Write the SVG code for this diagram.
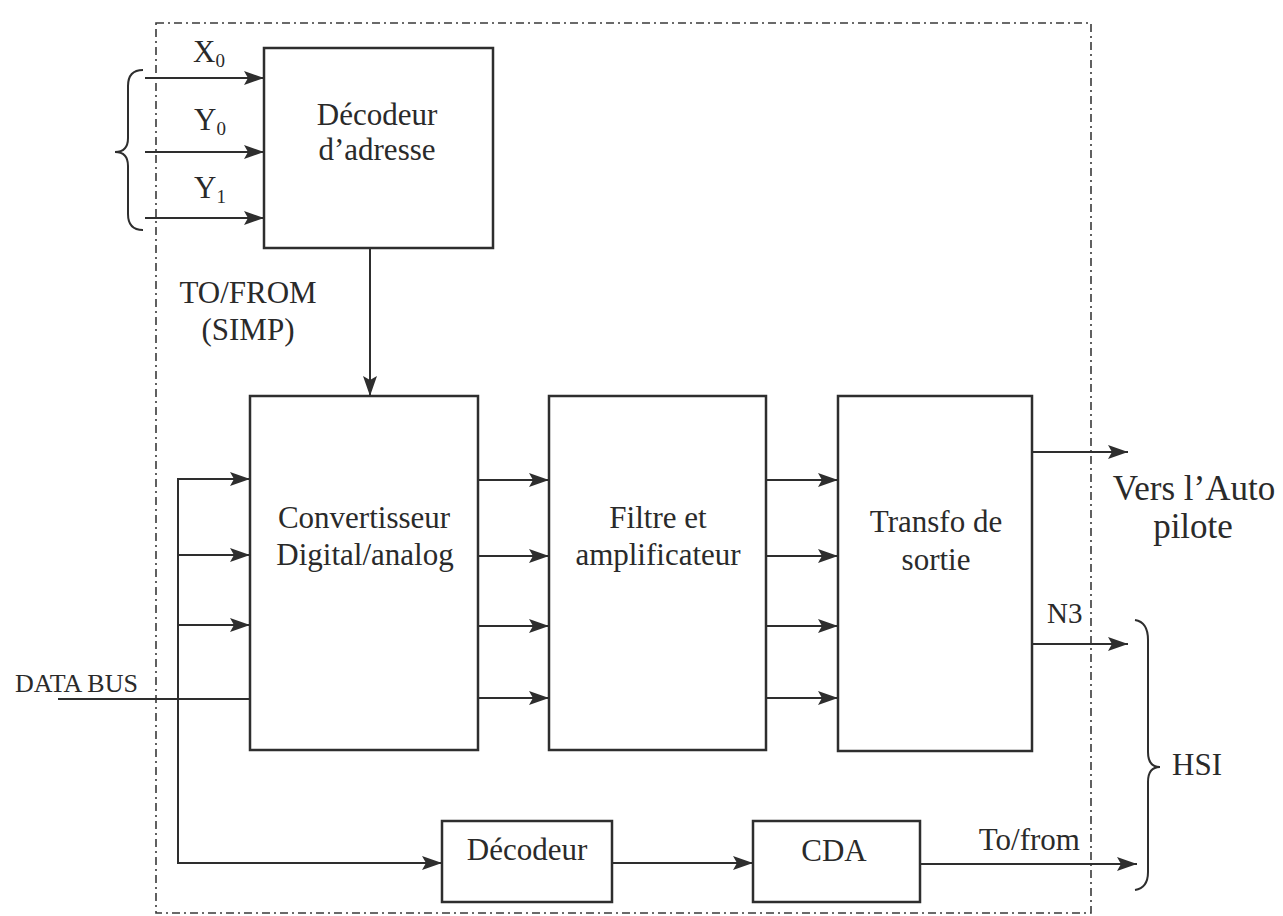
<svg xmlns="http://www.w3.org/2000/svg" width="1283" height="916" viewBox="0 0 1283 916">
<style>
.box{fill:none;stroke:#2e2e2e;stroke-width:2.5}
.ln{fill:none;stroke:#2e2e2e;stroke-width:2}
.arr{fill:none;stroke:#2e2e2e;stroke-width:2;marker-end:url(#ah)}
.brace{fill:none;stroke:#2e2e2e;stroke-width:2}
.border{fill:none;stroke:#3a3a3a;stroke-width:1.6;stroke-dasharray:8 4 2 4}
text{font-family:"Liberation Serif","Times New Roman",serif;fill:#2a2a2a;font-size:31px}
.c{text-anchor:middle}
.sub{font-size:19px}
</style>
<defs>
<marker id="ah" markerWidth="21" markerHeight="15" refX="20" refY="7" orient="auto" markerUnits="userSpaceOnUse">
<path d="M0,0 L20,7 L0,14 L4,7 z" fill="#2e2e2e"/>
</marker>
</defs>
<rect width="1283" height="916" fill="#ffffff"/>
<rect id="boundary" class="border" x="156" y="23" width="935" height="890"/>

<g id="decodeur-adresse">
<rect class="box" x="264" y="48" width="229" height="200"/>
<text class="c" x="377" y="125">Décodeur</text>
<text class="c" x="377" y="160">d’adresse</text>
</g>
<g id="convertisseur">
<rect class="box" x="250" y="396" width="228" height="354"/>
<text class="c" x="364" y="528">Convertisseur</text>
<text class="c" x="365" y="565">Digital/analog</text>
</g>
<g id="filtre">
<rect class="box" x="549" y="396" width="217" height="354"/>
<text class="c" x="658" y="528">Filtre et</text>
<text class="c" x="658" y="565">amplificateur</text>
</g>
<g id="transfo">
<rect class="box" x="838" y="396" width="194" height="355"/>
<text class="c" x="936" y="532">Transfo de</text>
<text class="c" x="936" y="570">sortie</text>
</g>
<g id="decodeur">
<rect class="box" x="442" y="821" width="170" height="81"/>
<text class="c" x="527" y="860">Décodeur</text>
</g>
<g id="cda">
<rect class="box" x="753" y="821" width="167" height="81"/>
<text class="c" x="834" y="861">CDA</text>
</g>

<g id="connectors">
<line class="arr" x1="145" y1="78" x2="264" y2="78"/>
<line class="arr" x1="145" y1="152" x2="264" y2="152"/>
<line class="arr" x1="145" y1="218" x2="264" y2="218"/>
<line class="arr" x1="370" y1="248" x2="370" y2="396"/>
<path class="ln" d="M178,479 L178,863"/>
<line class="arr" x1="177" y1="479" x2="250" y2="479"/>
<line class="arr" x1="178" y1="555" x2="250" y2="555"/>
<line class="arr" x1="178" y1="625" x2="250" y2="625"/>
<line class="ln" x1="58" y1="699" x2="250" y2="699"/>
<line class="arr" x1="478" y1="480" x2="549" y2="480"/>
<line class="arr" x1="478" y1="556" x2="549" y2="556"/>
<line class="arr" x1="478" y1="626" x2="549" y2="626"/>
<line class="arr" x1="478" y1="698" x2="549" y2="698"/>
<line class="arr" x1="766" y1="480" x2="838" y2="480"/>
<line class="arr" x1="766" y1="556" x2="838" y2="556"/>
<line class="arr" x1="766" y1="626" x2="838" y2="626"/>
<line class="arr" x1="766" y1="698" x2="838" y2="698"/>
<line class="arr" x1="1032" y1="452" x2="1128" y2="452"/>
<line class="arr" x1="1032" y1="644" x2="1128" y2="644"/>
<line class="arr" x1="177" y1="863" x2="442" y2="863"/>
<line class="arr" x1="612" y1="863" x2="753" y2="863"/>
<line class="arr" x1="920" y1="864" x2="1137" y2="864"/>
<path class="brace" d="M143,70 Q128,70 128,86 L128,138 Q128,152 115,152 Q128,152 128,166 L128,214 Q128,230 143,230"/>
<path class="brace" d="M1135,620 Q1148,622 1148,640 L1148,752 Q1148,767 1160,767 Q1148,767 1148,782 L1148,872 Q1148,888 1135,890"/>
</g>

<g id="labels">
<text x="193" y="62">X<tspan class="sub" dy="5">0</tspan></text>
<text x="194" y="130">Y<tspan class="sub" dy="5">0</tspan></text>
<text x="194" y="198">Y<tspan class="sub" dy="5">1</tspan></text>
<text class="c" x="248" y="303">TO/FROM</text>
<text class="c" x="248" y="340">(SIMP)</text>
<text x="15" y="692" style="font-size:26px">DATA BUS</text>
<text class="c" x="1194" y="500" style="font-size:35px">Vers l’Auto</text>
<text class="c" x="1193" y="538" style="font-size:35px">pilote</text>
<text x="1047" y="623" style="font-size:29px">N3</text>
<text x="1172" y="775">HSI</text>
<text x="1080" y="850" style="text-anchor:end">To/from</text>
</g>
</svg>
